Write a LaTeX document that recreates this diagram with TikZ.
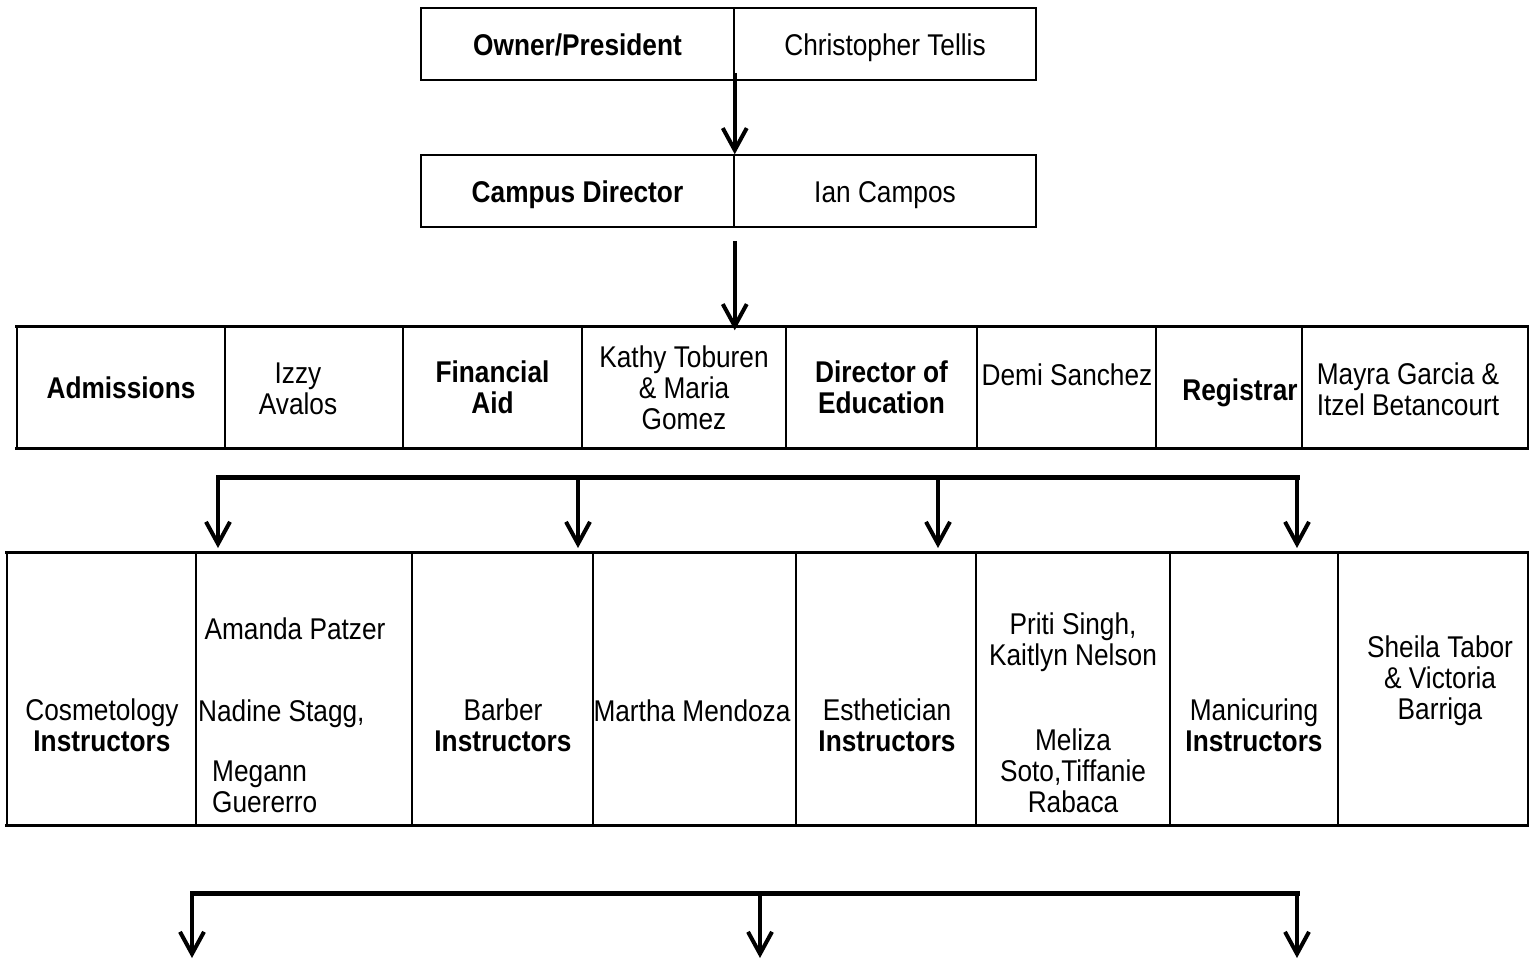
\documentclass[tikz,border=0pt]{standalone}
\usepackage{fontspec}
\setmainfont{Liberation Sans}[FakeStretch=0.875]
\usetikzlibrary{arrows.meta}

\begin{document}
\begin{tikzpicture}
  [x=1pt,y=-1pt,
   every node/.style={font=\fontsize{30}{31}\selectfont,inner sep=0pt,align=center},
   bold/.style={font=\fontsize{30}{31}\selectfont\bfseries},
   one/.style={text height=22pt,text depth=0pt},
   cell/.style={draw,line width=1.5pt},
   top/.style={cell,one,minimum height=72pt},
   mid/.style={cell,minimum height=121pt},
   low/.style={cell,minimum height=272pt},
   frame/.style={line width=3pt,line cap=rect},
   arr/.style={line width=4pt,-{Straight Barb[length=22pt,width=24pt]}},
   bus/.style={line width=5pt,line cap=rect}]
  \useasboundingbox (0,0) rectangle (1529,964);

  % owner and campus director
  \node[top,bold,minimum width=313pt] (ownL)  at (577.5,44)  {Owner/President};
  \node[top,minimum width=302pt]      (ownR)  at (885,44)    {Christopher Tellis};
  \node[top,bold,minimum width=313pt] (campL) at (577.5,191) {Campus Director};
  \node[top,minimum width=302pt]      (campR) at (885,191)   {Ian Campos};

  % office row
  \node[mid,one,bold,minimum width=208pt] (adm) at (121,387.5) {Admissions};
  \node[mid,minimum width=178pt]      (izzy)  at (314,387.5)    {};
  \node[mid,bold,minimum width=179pt] (fin)   at (492.5,387.5)  {Financial\\Aid};
  \node[mid,minimum width=204pt]      (kathy) at (684,387.5)    {Kathy Toburen\\\& Maria\\Gomez};
  \node[mid,bold,minimum width=191pt] (doe)   at (881.5,387.5)  {Director of\\Education};
  \node[mid,minimum width=179pt]      (demi)  at (1066.5,387.5) {};
  \node[mid,minimum width=146pt]      (reg)   at (1229,387.5)   {};
  \node[mid,minimum width=226pt]      (mayra) at (1415,387.5)   {};
  \node (izzyT)  at (298,389)  {Izzy\\Avalos};
  \node[one] (demiT) at (1067,374) {Demi Sanchez};
  \node[one,bold] (regT) at (1240,389) {Registrar};
  \node (mayraT) at (1408,389) {Mayra Garcia \&\\Itzel Betancourt};

  % instructor row
  \node[low,minimum width=189pt] (cos) at (101.5,689) {};
  \node[low,minimum width=216pt] (am)  at (304,689)   {};
  \node[low,minimum width=181pt] (bar) at (502.5,689) {};
  \node[low,minimum width=203pt] (mar) at (694.5,689) {};
  \node[low,minimum width=180pt] (est) at (886,689)   {};
  \node[low,minimum width=194pt] (pri) at (1073,689)  {};
  \node[low,minimum width=168pt] (man) at (1254,689)  {};
  \node[low,minimum width=190pt] (she) at (1433,689)  {};
  \node (cosT) at (102,725)  {Cosmetology\\\textbf{Instructors}};
  \node[one] (amT) at (295,628) {Amanda Patzer};
  \node[one,anchor=west] (nadT) at (198,710) {Nadine Stagg,};
  \node[anchor=west,align=left] (megT) at (212,787) {Megann\\Guererro};
  \node (barT) at (503,725)  {Barber\\\textbf{Instructors}};
  \node[one] (marT) at (692,710) {Martha Mendoza};
  \node (estT) at (887,725)  {Esthetician\\\textbf{Instructors}};
  \node (priT) at (1073,642) {Priti Singh,\\Kaitlyn Nelson};
  \node (melT) at (1073,771) {Meliza\\Soto,Tiffanie\\Rabaca};
  \node (manT) at (1254,725) {Manicuring\\\textbf{Instructors}};
  \node (sheT) at (1440,681) {Sheila Tabor\\\& Victoria\\Barriga};

  % heavy row edges
  \draw[frame] (adm.north west) -- (mayra.north east);
  \draw[frame] (adm.south west) -- (mayra.south east);
  \draw[frame] (cos.north west) -- (she.north east);
  \draw[frame] (cos.south west) -- (she.south east);

  % arrows from the top
  \draw[arr] ([yshift=8pt]ownL.south east) -- (campL.north east);
  \draw[arr] ([yshift=-13pt]campL.south east) -- ([yshift=-4pt]campL.south east |- kathy.north);

  % first bus
  \foreach \x [count=\i] in {218,578,938,1297} {
    \coordinate (up\i) at (\x,477);
    \coordinate (dn\i) at (\x,548);
  }
  \draw[bus] (up1) -- (up4);
  \foreach \i in {1,...,4}
    \draw[arr] (up\i) -- (dn\i);

  % second bus
  \foreach \x [count=\i] in {192,760,1297} {
    \coordinate (lo\i) at (\x,893);
    \coordinate (ft\i) at (\x,958);
  }
  \draw[bus] (lo1) -- (lo3);
  \foreach \i in {1,...,3}
    \draw[arr] (lo\i) -- (ft\i);
\end{tikzpicture}
\end{document}
